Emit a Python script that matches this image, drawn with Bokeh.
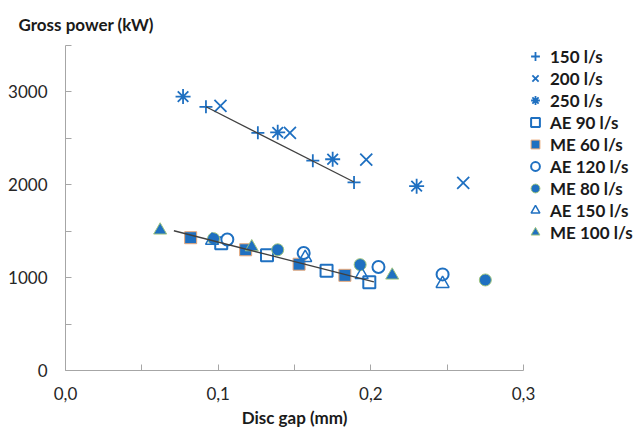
from bokeh.plotting import figure
from bokeh.models import FixedTicker, Legend, LegendItem, Title, Range1d
from bokeh.embed import file_html
from bokeh.resources import INLINE

BLUE = "#1F70C1"
FONT = "Lato"

# ---- data ----
x150 = [0.092, 0.126, 0.162, 0.189]
y150 = [2840, 2560, 2260, 2025]
x200 = [0.1015, 0.147, 0.197, 0.2605]
y200 = [2850, 2560, 2270, 2020]
x250 = [0.077, 0.139, 0.175, 0.230]
y250 = [2950, 2565, 2275, 1985]

x_ae90 = [0.102, 0.132, 0.171, 0.199]
y_ae90 = [1370, 1240, 1075, 950]
x_me60 = [0.082, 0.118, 0.153, 0.183]
y_me60 = [1430, 1300, 1145, 1025]
x_ae120 = [0.106, 0.156, 0.205, 0.247]
y_ae120 = [1410, 1265, 1115, 1035]
x_me80 = [0.097, 0.139, 0.193, 0.275]
y_me80 = [1420, 1300, 1140, 975]
x_ae150 = [0.096, 0.157, 0.194, 0.247]
y_ae150 = [1400, 1215, 1030, 935]
x_me100 = [0.062, 0.122, 0.214]
y_me100 = [1510, 1330, 1025]

trend_hi_x = [0.092, 0.189]
trend_hi_y = [2840, 2030]
trend_lo_x = [0.071, 0.202]
trend_lo_y = [1505, 955]

x_ticks = [0.0, 0.1, 0.2, 0.3]
x_tick_labels = ["0,0", "0,1", "0,2", "0,3"]
y_ticks = [0, 1000, 2000, 3000]
y_tick_labels = ["0", "1000", "2000", "3000"]

labels = ["150 l/s", "200 l/s", "250 l/s", "AE 90 l/s", "ME 60 l/s",
          "AE 120 l/s", "ME 80 l/s", "AE 150 l/s", "ME 100 l/s"]

# ---- figure ----
p = figure(width=635, height=428, output_backend="svg", toolbar_location=None,
           x_range=Range1d(0, 0.3), y_range=Range1d(0, 3500),
           min_border_left=65, min_border_top=45, min_border_bottom=58,
           frame_width=458, frame_height=325)
p.outline_line_color = None
p.xgrid.visible = False
p.ygrid.visible = False
p.background_fill_color = "white"
p.border_fill_color = "white"

renderers = []
renderers.append(p.scatter(x150, y150, marker="cross", size=13, line_color=BLUE, line_width=1.8))
renderers.append(p.scatter(x200, y200, marker="x", size=17, line_color=BLUE, line_width=1.8))
renderers.append(p.scatter(x250, y250, marker="asterisk", size=15, line_color=BLUE, line_width=1.8))
renderers.append(p.scatter(x_ae90, y_ae90, marker="square", size=12, line_color=BLUE,
                           fill_color="white", line_width=2))
renderers.append(p.scatter(x_me60, y_me60, marker="square", size=12, line_color="#EAA877",
                           fill_color=BLUE, line_width=1))
renderers.append(p.scatter(x_ae120, y_ae120, marker="circle", size=12, line_color=BLUE,
                           fill_color="white", line_width=2))
renderers.append(p.scatter(x_me80, y_me80, marker="circle", size=12, line_color="#9DC47E",
                           fill_color=BLUE, line_width=1))
renderers.append(p.scatter(x_ae150, y_ae150, marker="triangle", size=13, line_color=BLUE,
                           fill_color=None, line_width=1.5))
renderers.append(p.scatter(x_me100, y_me100, marker="triangle", size=13, line_color="#9DC47E",
                           fill_color=BLUE, line_width=1))

p.line(trend_hi_x, trend_hi_y, line_color="#404040", line_width=1.3)
p.line(trend_lo_x, trend_lo_y, line_color="#404040", line_width=1.3)

# ---- axes ----
for ax in (p.xaxis[0], p.yaxis[0]):
    ax.axis_line_color = "#A6A6A6"
    ax.major_tick_line_color = "#A6A6A6"
    ax.minor_tick_line_color = "#A6A6A6"
    ax.major_tick_in = 6
    ax.major_tick_out = 0
    ax.minor_tick_in = 6
    ax.minor_tick_out = 0
    ax.major_label_text_font = FONT
    ax.major_label_text_font_size = "17px"
    ax.major_label_text_color = "#262626"

p.xaxis.ticker = FixedTicker(ticks=x_ticks, minor_ticks=[0.05, 0.15, 0.25])
p.xaxis.major_label_overrides = dict(zip(x_ticks, x_tick_labels))
p.xaxis.major_label_standoff = 16
p.xaxis.axis_label = "Disc gap (mm)"
p.xaxis.axis_label_text_font = FONT
p.xaxis.axis_label_text_font_style = "bold"
p.xaxis.axis_label_text_font_size = "17px"
p.xaxis.axis_label_text_color = "#1a1a1a"
p.xaxis.axis_label_standoff = 4

p.yaxis.ticker = FixedTicker(ticks=y_ticks, minor_ticks=[500, 1500, 2500, 3500])
p.yaxis.major_label_overrides = dict(zip(y_ticks, y_tick_labels))
p.yaxis.major_label_standoff = 18

t = Title(text="Gross power (kW)", align="left", offset=-47,
          vertical_align="top",
          text_font=FONT, text_font_style="bold", text_font_size="17px",
          text_color="#1a1a1a", standoff=17)
p.add_layout(t, "above")

# ---- legend ----
legend = Legend(items=[LegendItem(label=l, renderers=[r]) for l, r in zip(labels, renderers)],
                location="top_left", orientation="vertical",
                glyph_width=24, glyph_height=22, label_height=22,
                spacing=0, padding=0, margin=0, label_standoff=3,
                label_text_font=FONT, label_text_font_style="bold",
                label_text_font_size="17px", label_text_color="#1a1a1a",
                border_line_color=None, background_fill_alpha=0)
p.add_layout(legend, "right")

open("out.html", "w").write(file_html(p, INLINE))
